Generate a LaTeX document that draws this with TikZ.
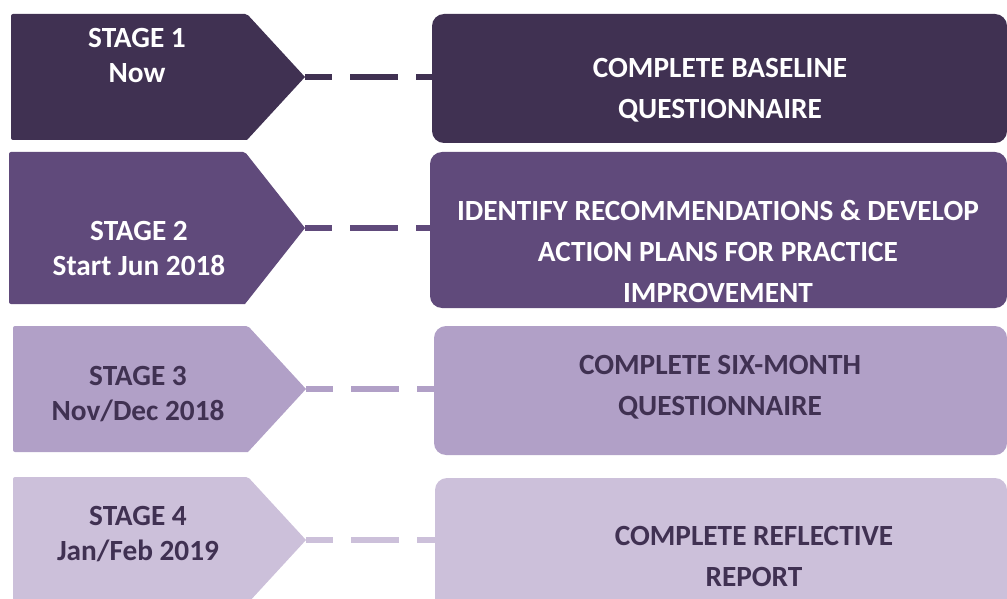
\documentclass[tikz,border=0pt]{standalone}
\usepackage{fontspec}
\setmainfont{Carlito}
\definecolor{pA}{HTML}{403152}
\definecolor{pB}{HTML}{604A7B}
\definecolor{pC}{HTML}{B1A0C7}
\definecolor{pD}{HTML}{CCC0DA}
\tikzset{
  x=1pt,y=1pt,
  boxshape/.style={rounded corners=12pt,inner sep=0pt,outer sep=0pt,anchor=north west,draw=none},
  stagetext/.style={align=center,font=\fontsize{29.3}{35}\selectfont\bfseries,inner sep=0pt},
  boxtext/.style={align=center,font=\fontsize{29.3}{41}\selectfont\bfseries,inner sep=0pt},
  dashline/.style={line width=5.5pt,dash pattern=on 27pt off 18pt on 48pt off 18pt on 60pt}
}
\begin{document}
\begin{tikzpicture}
\useasboundingbox (0,0) rectangle (1007,-599);
\clip (0,0) rectangle (1007,-599);
% stage arrows
\fill[pA,rounded corners=2pt] (11,-14) -- (247,-14) [sharp corners] -- (305,-77) -- (247,-140) [rounded corners=2pt] -- (11,-140) -- cycle;
\coordinate (t1) at (305,-77);
\fill[pB,rounded corners=2pt] (9,-152) -- (245,-152) [sharp corners] -- (305,-228) -- (245,-304) [rounded corners=2pt] -- (9,-304) -- cycle;
\coordinate (t2) at (305,-228);
\fill[pC,rounded corners=2pt] (13,-326) -- (248,-326) [sharp corners] -- (306,-389) -- (248,-452) [rounded corners=2pt] -- (13,-452) -- cycle;
\coordinate (t3) at (306,-389);
\fill[pD,rounded corners=2pt] (13,-477) -- (248,-477) [sharp corners] -- (306,-540) -- (248,-603) [rounded corners=2pt] -- (13,-603) -- cycle;
\coordinate (t4) at (306,-540);
% boxes
\node[boxshape,fill=pA,minimum width=575pt,minimum height=129pt] (b1) at (432,-14) {};
\node[boxshape,fill=pB,minimum width=577pt,minimum height=156pt] (b2) at (430,-152) {};
\node[boxshape,fill=pC,minimum width=573pt,minimum height=129pt] (b3) at (434,-326) {};
\node[boxshape,fill=pD,minimum width=572pt,minimum height=140pt] (b4) at (435,-478) {};
% connectors
\draw[dashline,pA] (t1) -- (t1 -| b1.west);
\draw[dashline,pB] (t2) -- (t2 -| b2.west);
\draw[dashline,pC] (t3) -- (t3 -| b3.west);
\draw[dashline,pD] (t4) -- (t4 -| b4.west);
% stage texts
\node[stagetext,text=white] (s1) at (137,-55.5) {STAGE 1\\Now};
\node[stagetext,text=white] (s2) at (139,-248) {STAGE 2\\Start Jun 2018};
\node[stagetext,text=pA] (s3) at (138,-394) {STAGE 3\\Nov/Dec 2018};
\node[stagetext,text=pA] (s4) at (138,-534) {STAGE 4\\Jan/Feb 2019};
% box texts
\node[boxtext,text=white] (x1) at (720,-90) {COMPLETE BASELINE\\QUESTIONNAIRE};
\node[boxtext,text=white] (x2) at (718,-251) {IDENTIFY RECOMMENDATIONS \& DEVELOP\\ACTION PLANS FOR PRACTICE\\IMPROVEMENT};
\node[boxtext,text=pA] (x3) at (720,-387.5) {COMPLETE SIX-MONTH\\QUESTIONNAIRE};
\node[boxtext,text=pA] (x4) at (754,-556.5) {COMPLETE REFLECTIVE\\REPORT};
\end{tikzpicture}
\end{document}
